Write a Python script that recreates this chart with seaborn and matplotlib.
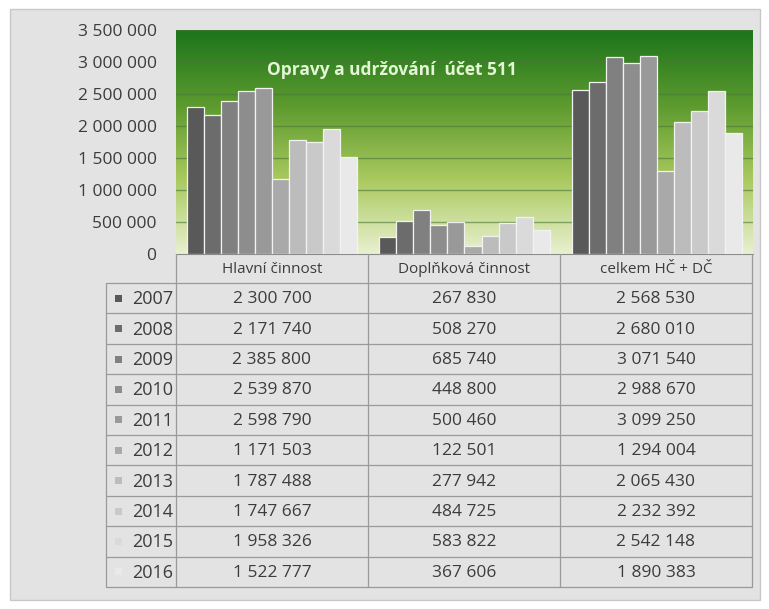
import numpy as np
import pandas as pd
import matplotlib
matplotlib.use("Agg")
import matplotlib.pyplot as plt
import seaborn as sns
from matplotlib.colors import LinearSegmentedColormap
from matplotlib.patches import Rectangle

# data
years = ["2007", "2008", "2009", "2010", "2011", "2012", "2013", "2014", "2015", "2016"]
categories = ["Hlavní činnost", "Doplňková činnost", "celkem HČ + DČ"]
hlavni = [2300700, 2171740, 2385800, 2539870, 2598790, 1171503, 1787488, 1747667, 1958326, 1522777]
doplnkova = [267830, 508270, 685740, 448800, 500460, 122501, 277942, 484725, 583822, 367606]
celkem = [2568530, 2680010, 3071540, 2988670, 3099250, 1294004, 2065430, 2232392, 2542148, 1890383]
year_colors = ["#595959", "#6c6c6c", "#808080", "#8d8d8d", "#999999",
               "#a9a9a9", "#bcbcbc", "#c9c9c9", "#dadada", "#e9e9e9"]

rows = []
for cat, vals in zip(categories, [hlavni, doplnkova, celkem]):
    for y, v in zip(years, vals):
        rows.append({"kategorie": cat, "rok": y, "hodnota": v})
df = pd.DataFrame(rows)

sns.set_style("white")
plt.rcParams["font.family"] = ["Open Sans", "DejaVu Sans"]

W, H = 769, 609
fig = plt.figure(figsize=(W / 100, H / 100), dpi=100)
fig.patch.set_facecolor("white")

# background panel (drawn first)
bg = fig.add_axes([0, 0, 1, 1])
bg.set_xlim(0, W)
bg.set_ylim(H, 0)
bg.axis("off")
bg.add_patch(Rectangle((10, 9), 750, 591, facecolor="#e3e3e3", edgecolor="#c8c8c8", lw=1))

def fmt(v):
    return f"{v:,}".replace(",", " ")

txt_c = "#3c3c3c"

# chart area
ax = fig.add_axes([176 / W, 1 - 254 / H, (753 - 176) / W, (254 - 30) / H])
ax.set_facecolor("none")
sns.barplot(data=df, x="kategorie", y="hodnota", hue="rok", palette=year_colors,
            width=0.885, edgecolor="#f2f2f2", linewidth=0.9, saturation=1,
            legend=False, ax=ax, zorder=3)
ymax = 3500000
ax.set_ylim(0, ymax)
ax.set_xlim(-0.5, 2.5)
grad = LinearSegmentedColormap.from_list("g", ["#e9f1d0", "#a9c95e", "#5c9a2e", "#1d741c"])
ax.imshow(np.linspace(0, 1, 256).reshape(-1, 1), cmap=grad, aspect="auto", origin="lower",
          extent=[-0.5, 2.5, 0, ymax], zorder=0)
ticks = np.arange(0, ymax + 1, 500000)
ax.set_yticks(ticks)
ax.set_yticklabels([fmt(t) for t in ticks], fontsize=12.5, color=txt_c)
ax.yaxis.set_tick_params(length=0, pad=14)
for t in ticks[1:]:
    ax.axhline(t, color="#4a7636", lw=1, alpha=0.6, zorder=1)
ax.set_xticks([])
ax.set_xlabel("")
ax.set_ylabel("")
for s in ["top", "right", "left"]:
    ax.spines[s].set_visible(False)
ax.spines["bottom"].set_color("#8a8a8a")
ax.text(0.375, 0.82, "Opravy a udržování  účet 511", transform=ax.transAxes, ha="center",
        va="center", fontsize=12.5, fontweight="bold", color="#e4f5d6", zorder=4)

# data table
ta = fig.add_axes([0, 0, 1, 1])
ta.set_xlim(0, W)
ta.set_ylim(H, 0)
ta.axis("off")
col_edges = [106, 176, 368, 560, 752]
top, head_bottom, bottom = 254, 283, 587
row_h = (bottom - head_bottom) / len(years)
line_c = "#9a9a9a"
for x in col_edges[1:]:
    ta.plot([x, x], [top, bottom], color=line_c, lw=0.9)
ta.plot([col_edges[0], col_edges[0]], [head_bottom, bottom], color=line_c, lw=0.9)
for i in range(len(years) + 1):
    yy = head_bottom + i * row_h
    ta.plot([col_edges[0], col_edges[-1]], [yy, yy], color=line_c, lw=0.9)
for j, cat in enumerate(categories):
    ta.text((col_edges[j + 1] + col_edges[j + 2]) / 2, (top + head_bottom) / 2 + 1, cat,
            ha="center", va="center", fontsize=11, color=txt_c)
for i, (yr, c) in enumerate(zip(years, year_colors)):
    yc = head_bottom + (i + 0.5) * row_h
    ta.add_patch(Rectangle((115, yc - 3.5), 7, 7, facecolor=c, edgecolor="none"))
    ta.text(173, yc + 1, yr, ha="right", va="center", fontsize=13, color=txt_c)
    for j, vals in enumerate([hlavni, doplnkova, celkem]):
        ta.text((col_edges[j + 1] + col_edges[j + 2]) / 2, yc + 1, fmt(vals[i]),
                ha="center", va="center", fontsize=12.5, color=txt_c)

fig.savefig("out.png", dpi=100, facecolor=fig.get_facecolor())
